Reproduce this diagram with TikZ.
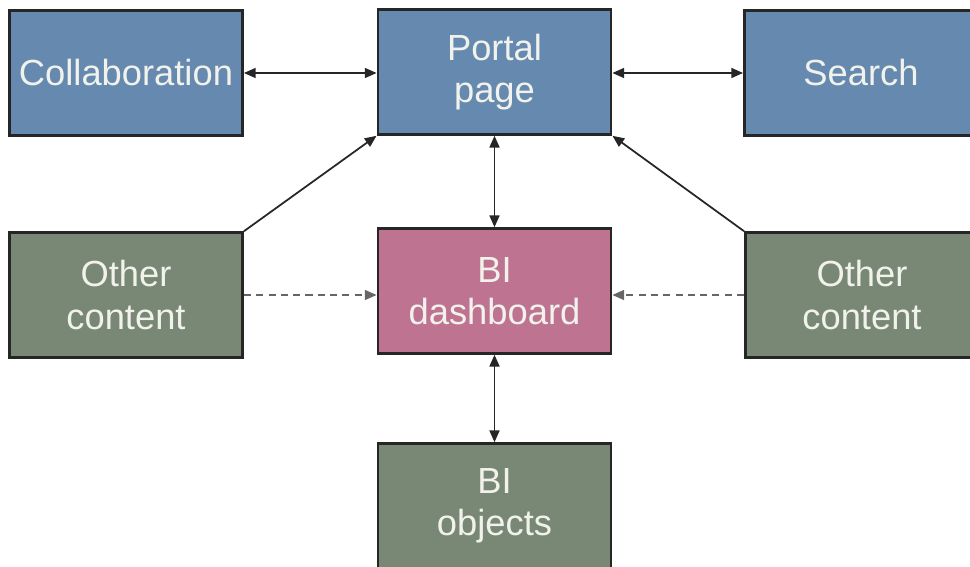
\documentclass[tikz,border=0pt]{standalone}
\usepackage{fontspec}
\setmainfont{Liberation Sans}
\usetikzlibrary{arrows.meta}
\definecolor{portalblue}{RGB}{101,137,175}
\definecolor{contentgreen}{RGB}{120,136,116}
\definecolor{dashpink}{RGB}{190,116,145}
\definecolor{boxtext}{RGB}{242,242,236}
\tikzset{
    box/.style={rectangle, draw=black!85, line width=2.2pt, text=boxtext,
                minimum width=7cm, minimum height=3.75cm, inner sep=0pt,
                align=center},
    bluebox/.style={box, fill=portalblue},
    greenbox/.style={box, fill=contentgreen},
    pinkbox/.style={box, fill=dashpink},
    link/.style={line width=1.5pt, black!85, {Triangle[length=10pt,width=8.5pt]}-{Triangle[length=10pt,width=8.5pt]}},
    feed/.style={line width=1.5pt, black!85, -{Triangle[length=10pt,width=8.5pt]}},
    soft/.style={line width=1.5pt, black!60, dash pattern=on 6pt off 4.5pt, -{Triangle[length=10pt,width=8.5pt]}}
}

\begin{document}
\begin{tikzpicture}
  [
    x                  = 0.03cm,
    y                  = -0.03cm,
    every node/.style  = {font=\fontsize{31}{36}\selectfont},
  ]
  \useasboundingbox (0,0) rectangle (970,567);
  \clip (0,0) rectangle (970,567);

  % top row
  \node [bluebox] (collab) at (126,73)  {Collaboration};
  \node [bluebox] (portal) at (494.5,72) {Portal\\page};
  \node [bluebox] (search) at (861,73)  {Search};

  % middle row
  \node [greenbox] (otherl) at (126,295)   {Other\\content};
  \node [pinkbox]  (dash)   at (494.5,291) {BI\\dashboard};
  \node [greenbox] (otherr) at (862,295)   {Other\\content};

  % bottom
  \node [greenbox] (objects) at (494.5,506) {BI\\objects};

  \draw [link] (collab.east) -- (portal.west |- collab.east);
  \draw [link] (portal.east |- search.west) -- (search.west);
  \draw [link] (portal.south) -- (dash.north);
  \draw [link] (dash.south) -- (objects.north);
  \draw [feed] (otherl.north east) -- (portal.south west);
  \draw [feed] (otherr.north west) -- (portal.south east);
  \draw [soft] (otherl.east) -- (dash.west |- otherl.east);
  \draw [soft] (otherr.west) -- (dash.east |- otherr.west);
\end{tikzpicture}
\end{document}
